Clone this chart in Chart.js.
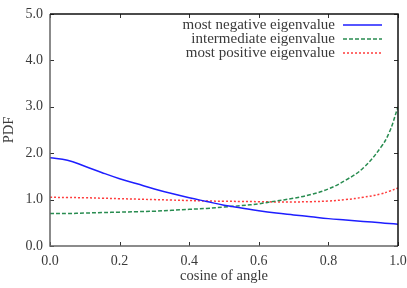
<!DOCTYPE html>
<html>
<head>
<meta charset="utf-8">
<script src="https://cdn.jsdelivr.net/npm/chart.js@4/dist/chart.umd.min.js"></script>
<style>
  html, body { margin: 0; padding: 0; background: #fff; }
  #wrap { width: 407px; height: 288px; }
</style>
</head>
<body>
<div id="wrap"><canvas id="pdfChart" width="407" height="288"></canvas></div>
<script>
// values
const cosAngle = [0, 0.05, 0.1, 0.15, 0.2, 0.25, 0.3, 0.35, 0.4, 0.45, 0.5,
                  0.55, 0.6, 0.65, 0.7, 0.75, 0.8, 0.85, 0.9, 0.95, 0.975, 1];
const mostNegative = [1.90, 1.85, 1.72, 1.58, 1.45, 1.34, 1.23, 1.13, 1.04, 0.96, 0.88,
                      0.82, 0.76, 0.71, 0.67, 0.63, 0.59, 0.56, 0.53, 0.50, 0.485, 0.47];
const intermediate = [0.70, 0.70, 0.71, 0.72, 0.73, 0.74, 0.75, 0.77, 0.79, 0.81, 0.84,
                      0.87, 0.91, 0.97, 1.03, 1.11, 1.23, 1.42, 1.68, 2.12, 2.45, 3.00];
const mostPositive = [1.05, 1.045, 1.04, 1.03, 1.02, 1.01, 1.00, 0.99, 0.98, 0.97, 0.965,
                      0.96, 0.955, 0.95, 0.95, 0.955, 0.97, 1.00, 1.05, 1.12, 1.18, 1.25];
const seriesLabels = ['most negative eigenvalue', 'intermediate eigenvalue', 'most positive eigenvalue'];
const xTicks = [0, 0.2, 0.4, 0.6, 0.8, 1.0];
const yTicks = [0, 1, 2, 3, 4, 5];

const FONT = 'Liberation Serif';
const TXT = '#3a3a3a';

const toPts = arr => arr.map((v, i) => ({ x: cosAngle[i], y: v }));

// frame, inward tick marks and a gnuplot-style key
const framePlugin = {
  id: 'frame',
  afterDraw(chart) {
    const { ctx, chartArea: a, scales } = chart;
    ctx.save();
    ctx.lineWidth = 1;
    ctx.strokeStyle = '#333';
    xTicks.forEach(t => {
      const px = Math.round(scales.x.getPixelForValue(t)) + 0.5;
      ctx.beginPath();
      ctx.moveTo(px, a.bottom); ctx.lineTo(px, a.bottom - 4);
      ctx.moveTo(px, a.top); ctx.lineTo(px, a.top + 4);
      ctx.stroke();
    });
    yTicks.forEach(t => {
      const py = Math.round(scales.y.getPixelForValue(t)) + 0.5;
      ctx.beginPath();
      ctx.moveTo(a.left, py); ctx.lineTo(a.left + 4, py);
      ctx.moveTo(a.right, py); ctx.lineTo(a.right - 4, py);
      ctx.stroke();
    });
    ctx.lineWidth = 1.5;
    ctx.strokeStyle = '#666';
    ctx.beginPath();
    ctx.moveTo(a.left, a.top); ctx.lineTo(a.left, a.bottom); ctx.lineTo(a.right, a.bottom);
    ctx.stroke();
    ctx.strokeStyle = '#111';
    ctx.beginPath();
    ctx.moveTo(a.left, a.top); ctx.lineTo(a.right, a.top); ctx.lineTo(a.right, a.bottom);
    ctx.stroke();

    // key
    ctx.font = '15px "' + FONT + '"';
    ctx.textAlign = 'right';
    ctx.textBaseline = 'middle';
    chart.data.datasets.forEach((ds, i) => {
      const y = 25 + i * 14;
      ctx.fillStyle = TXT;
      ctx.fillText(ds.label, 335, y);
      ctx.strokeStyle = ds.borderColor;
      ctx.lineWidth = ds.borderWidth;
      ctx.setLineDash(ds.borderDash || []);
      ctx.beginPath();
      ctx.moveTo(343, y); ctx.lineTo(382, y);
      ctx.stroke();
    });
    ctx.setLineDash([]);
    ctx.restore();
  }
};

new Chart(document.getElementById('pdfChart').getContext('2d'), {
  type: 'line',
  data: {
    datasets: [
      { label: seriesLabels[0], data: toPts(mostNegative), borderColor: 'rgb(30,30,255)', borderWidth: 1.5 },
      { label: seriesLabels[1], data: toPts(intermediate), borderColor: 'rgb(40,140,80)', borderWidth: 1.5, borderDash: [4, 2] },
      { label: seriesLabels[2], data: toPts(mostPositive), borderColor: 'rgb(255,60,60)', borderWidth: 1.5, borderDash: [2, 2] }
    ]
  },
  options: {
    responsive: false,
    animation: false,
    layout: { padding: { top: 14, right: 9, left: 0, bottom: 0 } },
    elements: {
      point: { radius: 0 },
      line: { tension: 0.4, fill: false }
    },
    plugins: { legend: { display: false }, tooltip: { enabled: false } },
    scales: {
      x: {
        type: 'linear', min: 0, max: 1,
        afterFit: s => { s.height = 42; s.paddingRight = 0; s.paddingLeft = 0; },
        afterBuildTicks: s => { s.ticks = xTicks.map(v => ({ value: v })); },
        grid: { display: false, drawTicks: false },
        border: { display: false },
        ticks: { padding: 7, color: TXT, font: { family: FONT, size: 14 }, callback: v => v.toFixed(1), maxRotation: 0 },
        title: { display: true, text: 'cosine of angle', color: TXT, font: { family: FONT, size: 14.5 }, padding: { top: 0, bottom: 3 } }
      },
      y: {
        min: 0, max: 5,
        afterFit: s => { s.width = 50; s.paddingTop = 0; s.paddingBottom = 0; },
        afterBuildTicks: s => { s.ticks = yTicks.map(v => ({ value: v })); },
        grid: { display: false, drawTicks: false },
        border: { display: false },
        ticks: { padding: 7, color: TXT, font: { family: FONT, size: 14 }, callback: v => v.toFixed(1) },
        title: { display: true, text: 'PDF', color: TXT, font: { family: FONT, size: 14.5 }, padding: { top: 0, bottom: 0 } }
      }
    }
  },
  plugins: [framePlugin]
});
</script>
</body>
</html>
